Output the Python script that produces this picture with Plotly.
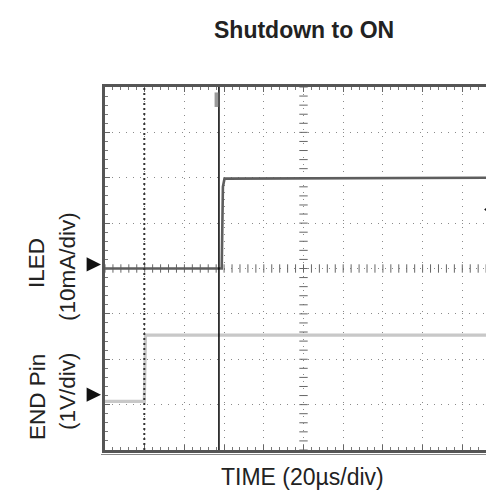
import numpy as np
import plotly.graph_objects as go

# ---- data (time in µs, amplitude in divisions) ----
iled_t = [-100, -41.2, -40.6, -39.8, 100]
iled_v = [0.0, 0.0, 1.8, 1.98, 2.0]
end_t = [-100, -80.2, -79.6, 100]
end_v = [-2.93, -2.93, -1.47, -1.47]
cursor_t = -42.6
dotted_t = -80.2
ground_marks = [0.09, -2.78]      # channel ground reference arrows (div)
trigger_level = 1.30              # trigger level marker (div)

title = "Shutdown to ON"
xlabel = "TIME (20µs/div)"
ylabels = [("ILED", 28, 255), ("(10mA/div)", 59, 259),
           ("END Pin", 29, 389), ("(1V/div)", 59, 383)]

W, H = 494, 490
L, R, T, B = 97, 0, 79, 48
PW, PH = W - L - R, H - T - B


def px_x(p):
    return (p - L) / PW


def px_y(p):
    return (H - B - p) / PH


FONT = "Liberation Sans, Arial, sans-serif"
fig = go.Figure()

# center axis tick marks
tx = np.arange(-100, 100.1, 4)
ty = np.arange(-4, 4.01, 0.2)
fig.add_trace(go.Scatter(x=tx, y=np.zeros_like(tx), mode="markers",
                         marker=dict(symbol="line-ns", size=6, line=dict(width=1, color="#666")),
                         hoverinfo="skip", showlegend=False))
fig.add_trace(go.Scatter(x=np.zeros_like(ty), y=ty, mode="markers",
                         marker=dict(symbol="line-ew", size=6, line=dict(width=1, color="#666")),
                         hoverinfo="skip", showlegend=False))

# waveforms
fig.add_trace(go.Scatter(x=end_t, y=end_v, mode="lines",
                         line=dict(color="#c8c8c8", width=3.2), showlegend=False))
fig.add_trace(go.Scatter(x=iled_t, y=iled_v, mode="lines",
                         line=dict(color="#5e5e5e", width=2.6), showlegend=False))

# trigger level marker (right edge)
fig.add_trace(go.Scatter(x=[93.5], y=[trigger_level], mode="markers",
                         marker=dict(symbol="triangle-left", size=10, color="#111",
                                     line=dict(width=0)),
                         hoverinfo="skip", showlegend=False))
fig.add_shape(type="line", x0=93.5, x1=100, y0=trigger_level, y1=trigger_level,
              line=dict(color="#333", width=1.2))

# cursor lines
fig.add_shape(type="line", x0=dotted_t, x1=dotted_t, y0=-4, y1=4,
              line=dict(color="#333", width=2, dash="2px,3px"))
fig.add_shape(type="line", x0=cursor_t, x1=cursor_t, y0=-4, y1=4,
              line=dict(color="#000", width=1.5))
fig.add_shape(type="rect", x0=-44.8, x1=-42.9, y0=3.56, y1=3.88,
              fillcolor="#9a9a9a", line=dict(width=0))
# second (outer) bottom frame line
fig.add_shape(type="line", xref="paper", yref="paper", x0=px_x(93), x1=1,
              y0=px_y(446.5), y1=px_y(446.5), line=dict(color="#888", width=1.2))

# ground arrows
for g in ground_marks:
    fig.add_annotation(x=px_x(93), y=g, xref="paper", yref="y", ax=-14, ay=0,
                       text="", showarrow=True, arrowhead=2, arrowsize=1.8,
                       arrowwidth=1.6, arrowcolor="#111")

# texts
fig.add_annotation(x=px_x(295.5), y=px_y(22), xref="paper", yref="paper",
                   xanchor="center", yanchor="middle",
                   text="<b>" + title + "</b>", showarrow=False,
                   font=dict(family=FONT, size=23, color="#222"))
fig.add_annotation(x=px_x(294.5), y=px_y(469), xref="paper", yref="paper",
                   xanchor="center", yanchor="middle",
                   text=xlabel, showarrow=False,
                   font=dict(family=FONT, size=23, color="#222"))
for txt, xp, yp in ylabels:
    fig.add_annotation(x=px_x(xp), y=px_y(yp), xref="paper", yref="paper",
                       xanchor="center", yanchor="middle",
                       text=txt, textangle=-90, showarrow=False,
                       font=dict(family=FONT, size=22.5, color="#222"))

grid = dict(showgrid=True, gridcolor="#8a8a8a", gridwidth=1, griddash="1px,6px",
            zeroline=False, showticklabels=False)
fig.update_xaxes(range=[-100, 100], dtick=20, tick0=-100, **grid,
                 showline=True, linecolor="#555", linewidth=3, mirror="ticks",
                 ticks="inside", ticklen=5, tickcolor="#666",
                 minor=dict(dtick=4, ticks="inside", ticklen=3, tickcolor="#777"))
fig.update_yaxes(range=[-4, 4], dtick=1, tick0=-4, **grid,
                 showline=True, linecolor="#555", linewidth=3,
                 ticks="inside", ticklen=5, tickcolor="#666",
                 minor=dict(dtick=0.2, ticks="inside", ticklen=3, tickcolor="#777"))

fig.update_layout(width=W, height=H, margin=dict(l=L, r=R, t=T, b=B),
                  plot_bgcolor="white", paper_bgcolor="white", showlegend=False)

fig.write_html("out.html")
